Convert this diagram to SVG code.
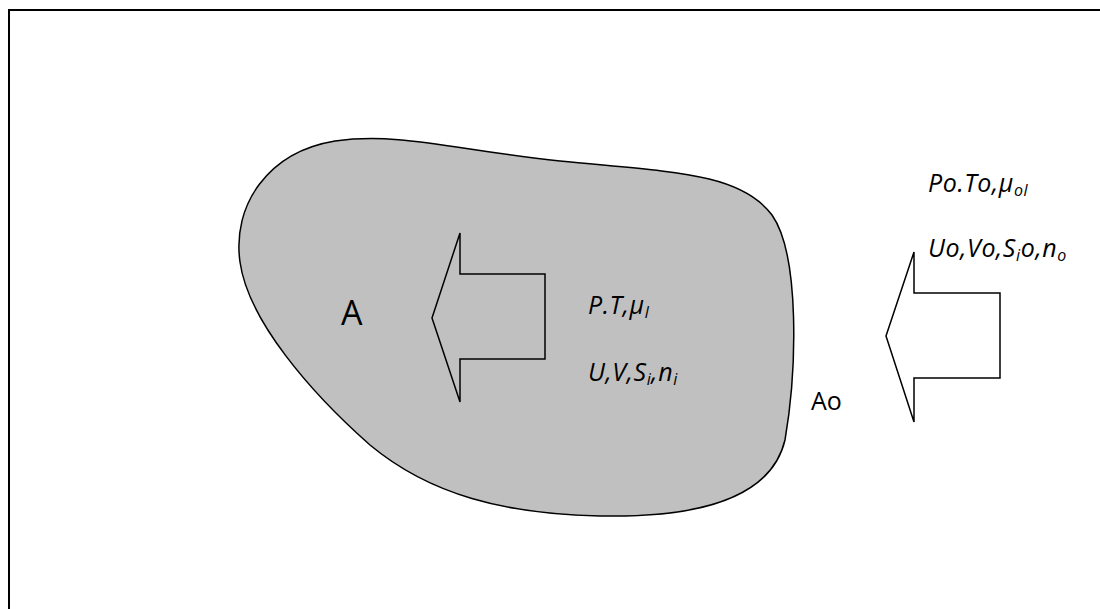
<svg xmlns="http://www.w3.org/2000/svg" width="1100" height="609" viewBox="0 0 1100 609">
<style>
.frame{fill:none;stroke:#000;stroke-width:2}
.blob{fill:#c0c0c0;stroke:#000;stroke-width:1.5}
.arrow{fill:none;stroke:#000;stroke-width:1.5;stroke-linejoin:miter}
.lbl{font-family:"Open Sans","Liberation Sans",sans-serif;font-size:25px;font-style:italic;fill:#000;letter-spacing:0.6px}
.big{font-family:"Open Sans","Liberation Sans",sans-serif;fill:#000}
.sub{font-size:16px}
</style>
<rect class="frame" x="9" y="10" width="1110" height="620"/>
<g id="region-A">
<path class="blob" d="M 240,262 C 232,205 268,152 335,141 C 400,132 455,150 560,161 C 670,172 740,172 772,215 C 800,255 797,370 785,440 C 772,495 705,518 600,516 C 505,514 430,495 370,445 C 310,392 248,320 240,262 Z"/>
<text class="big" x="341" y="325" font-size="34">A</text>
</g>
<g id="arrow-inner">
<polygon class="arrow" points="432,318 460,233 460,274 545,274 545,359 460,359 460,402"/>
</g>
<g id="labels-inner">
<text class="lbl" x="588" y="314">P.T,μ<tspan class="sub" dy="4">l</tspan></text>
<text class="lbl" x="588" y="381">U,V,S<tspan class="sub" dy="4">i</tspan><tspan dy="-4">,n</tspan><tspan class="sub" dy="4">i</tspan></text>
</g>
<g id="arrow-outer">
<polygon class="arrow" points="886,336 914,252 914,293 1000,293 1000,378 914,378 914,422"/>
</g>
<g id="labels-outer">
<text class="lbl" x="928" y="192">Po.To,μ<tspan class="sub" dy="4">ol</tspan></text>
<text class="lbl" x="928" y="257">Uo,Vo,S<tspan class="sub" dy="4">i</tspan><tspan dy="-4">o,n</tspan><tspan class="sub" dy="4">o</tspan></text>
<text class="big" x="811" y="410" font-size="25">Ao</text>
</g>
</svg>
